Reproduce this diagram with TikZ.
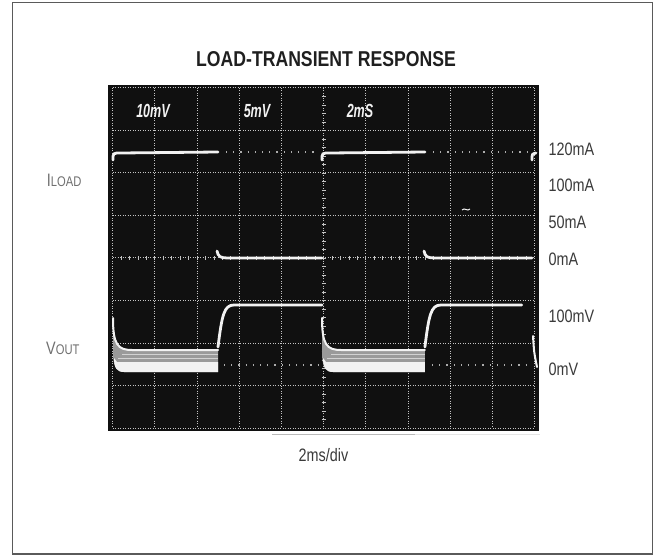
\documentclass[tikz,border=0pt]{standalone}
\usepackage{fontspec}
\setmainfont{Liberation Sans}
\newfontfamily\narrowfont[FakeStretch=0.8]{Liberation Sans}
\newfontfamily\titlefont[FakeStretch=0.82]{Liberation Sans}
\newfontfamily\scopefont[FakeStretch=0.66]{Liberation Sans}
\usepackage{xcolor}
\usepackage{tikz}

\definecolor{screenblack}{HTML}{101010}
\definecolor{gridgray}{HTML}{C4C4C4}
\definecolor{tracewhite}{HTML}{F2F2F2}
\definecolor{bandgray}{HTML}{9A9A9A}
\definecolor{labelgray}{HTML}{3A3A3A}
\definecolor{sidegray}{HTML}{707070}
\definecolor{framegray}{HTML}{5A5A5A}

\tikzset{
  gridline/.style={gridgray, line width=1pt, dash pattern=on 1pt off 1.5pt},
  tickmark/.style={gridgray, line width=0.9pt},
  trace/.style={tracewhite, line width=2.8pt, line cap=round},
  faintdots/.style={gray!65, line width=1.3pt, dash pattern=on 1.2pt off 6pt},
  scalelabel/.style={anchor=base west, inner sep=0pt, text=labelgray,
    font=\narrowfont\fontsize{18}{20}\selectfont},
  sidelabel/.style={anchor=base west, inner sep=0pt, text=sidegray},
  scopetext/.style={anchor=base, inner sep=0pt, text=tracewhite,
    font=\scopefont\bfseries\itshape\fontsize{19}{20}\selectfont}
}

\begin{document}
\begin{tikzpicture}[x=1pt,y=-1pt]
    \useasboundingbox (0,0) rectangle (659,556);
    \fill[white] (0,0) rectangle (659,556);
    \draw[framegray, line width=1.3pt] (12.7,2.7) rectangle (652.7,554);

    % title and axis text
    \node[anchor=base, inner sep=0pt, text=black!88,
      font=\titlefont\bfseries\fontsize{21.5}{24}\selectfont] (title) at (326,67)
      {LOAD-TRANSIENT RESPONSE};
    \node[anchor=base, inner sep=0pt, text=labelgray,
      font=\narrowfont\fontsize{18}{20}\selectfont] (timebase) at (323.5,461.5) {2ms/div};

    % scope screen
    \fill[screenblack] (108.3,85) rectangle (539,430.7);
    \draw[gray!55, line width=1.5pt] (272,434.5) -- (415,434.5);
    \draw[gray!20, line width=1.2pt] (415,434.5) -- (540,434.5);
    \foreach \i in {0,...,10}
      \draw[gridline] ({112.7+42.2*\i},88) -- ({112.7+42.2*\i},428);
    \foreach \j in {0,...,8}
      \draw[gridline] (112.7,{88+42.5*\j}) -- (534.7,{88+42.5*\j});
    \foreach \k in {1,...,39}
      \draw[tickmark] (321.5,{88+8.5*\k}) -- (325.9,{88+8.5*\k});
    \foreach \k in {1,...,49}
      \draw[tickmark] ({112.7+8.44*\k},255.8) -- ({112.7+8.44*\k},260.2);

    \node[scopetext] (vdiv1) at (153,118) {10mV};
    \node[scopetext] (vdiv2) at (257,118) {5mV};
    \node[scopetext] (tdiv) at (360,118) {2mS};

    % load current trace
    \draw[faintdots] (226,152) -- (318,152);
    \draw[faintdots] (433,152) -- (528,152);
    \draw[trace] (113,160) .. controls (113,153) .. (121,153) -- (218,152);
    \draw[trace] (217,251) .. controls (218,257) and (221,258) .. (228,258) -- (322,258);
    \draw[trace] (322,160) .. controls (322,153) .. (330,153) -- (425,152);
    \draw[trace] (424,251) .. controls (425,257) and (428,258) .. (435,258) -- (532,258);
    \draw[trace] (532,160) .. controls (532,154) .. (536,153);
    \draw[tracewhite, line width=1pt] (462,210) .. controls (465,207) and (467,212) .. (470,209);

    % output voltage trace
    \draw[faintdots] (224,365) -- (318,365);
    \draw[faintdots] (432,365) -- (528,365);
    \foreach \s in {0,209}{
      \begin{scope}[xshift=\s]
        \fill[bandgray] (113,322) .. controls (113,345) and (118,350) .. (132,350)
          -- ({218-\s*0.01},350) -- ({218-\s*0.01},372) -- (124,372)
          .. controls (116,372) and (113,366) .. (113,352) -- cycle;
        \draw[gray!35, line width=0.7pt] (122,354.5) -- ({218-\s*0.01},354.5);
        \draw[gray!35, line width=0.7pt] (118,358.5) -- ({218-\s*0.01},358.5);
        \fill[tracewhite] (117,362) -- ({218-\s*0.01},362) -- ({218-\s*0.01},372) -- (124,372)
          .. controls (117,372) and (114,368) .. (114,358) -- cycle;
        \draw[trace, line width=2pt] (113,318) .. controls (113,345) and (118,350) .. (132,350)
          -- ({218-\s*0.01},350);
        \draw[trace] ({218-\s*0.01},347) .. controls ({222-\s*0.01},315) and ({224-\s*0.01},305)
          .. ({234-\s*0.01},305) -- ({322-\s*0.045},305);
      \end{scope}
    }
    \draw[trace, line width=2pt] (533,336) .. controls (534,352) .. (537,367);

    % scale labels
    \node[scalelabel] (ihigh) at (548.3,156) {120mA};
    \node[scalelabel] (ihundred) at (548.3,191.7) {100mA};
    \node[scalelabel] (ififty) at (548.3,228.3) {50mA};
    \node[scalelabel] (izero) at (548.3,266) {0mA};
    \node[scalelabel] (vhundred) at (548.3,322.7) {100mV};
    \node[scalelabel] (vzero) at (548.3,375) {0mV};

    \node[sidelabel] (iload) at (46.7,186.7)
      {\narrowfont{\fontsize{18}{20}\selectfont I}{\fontsize{14}{16}\selectfont LOAD}};
    \node[sidelabel] (vout) at (46,354)
      {\narrowfont{\fontsize{18}{20}\selectfont V}{\fontsize{14}{16}\selectfont OUT}};
\end{tikzpicture}
\end{document}
